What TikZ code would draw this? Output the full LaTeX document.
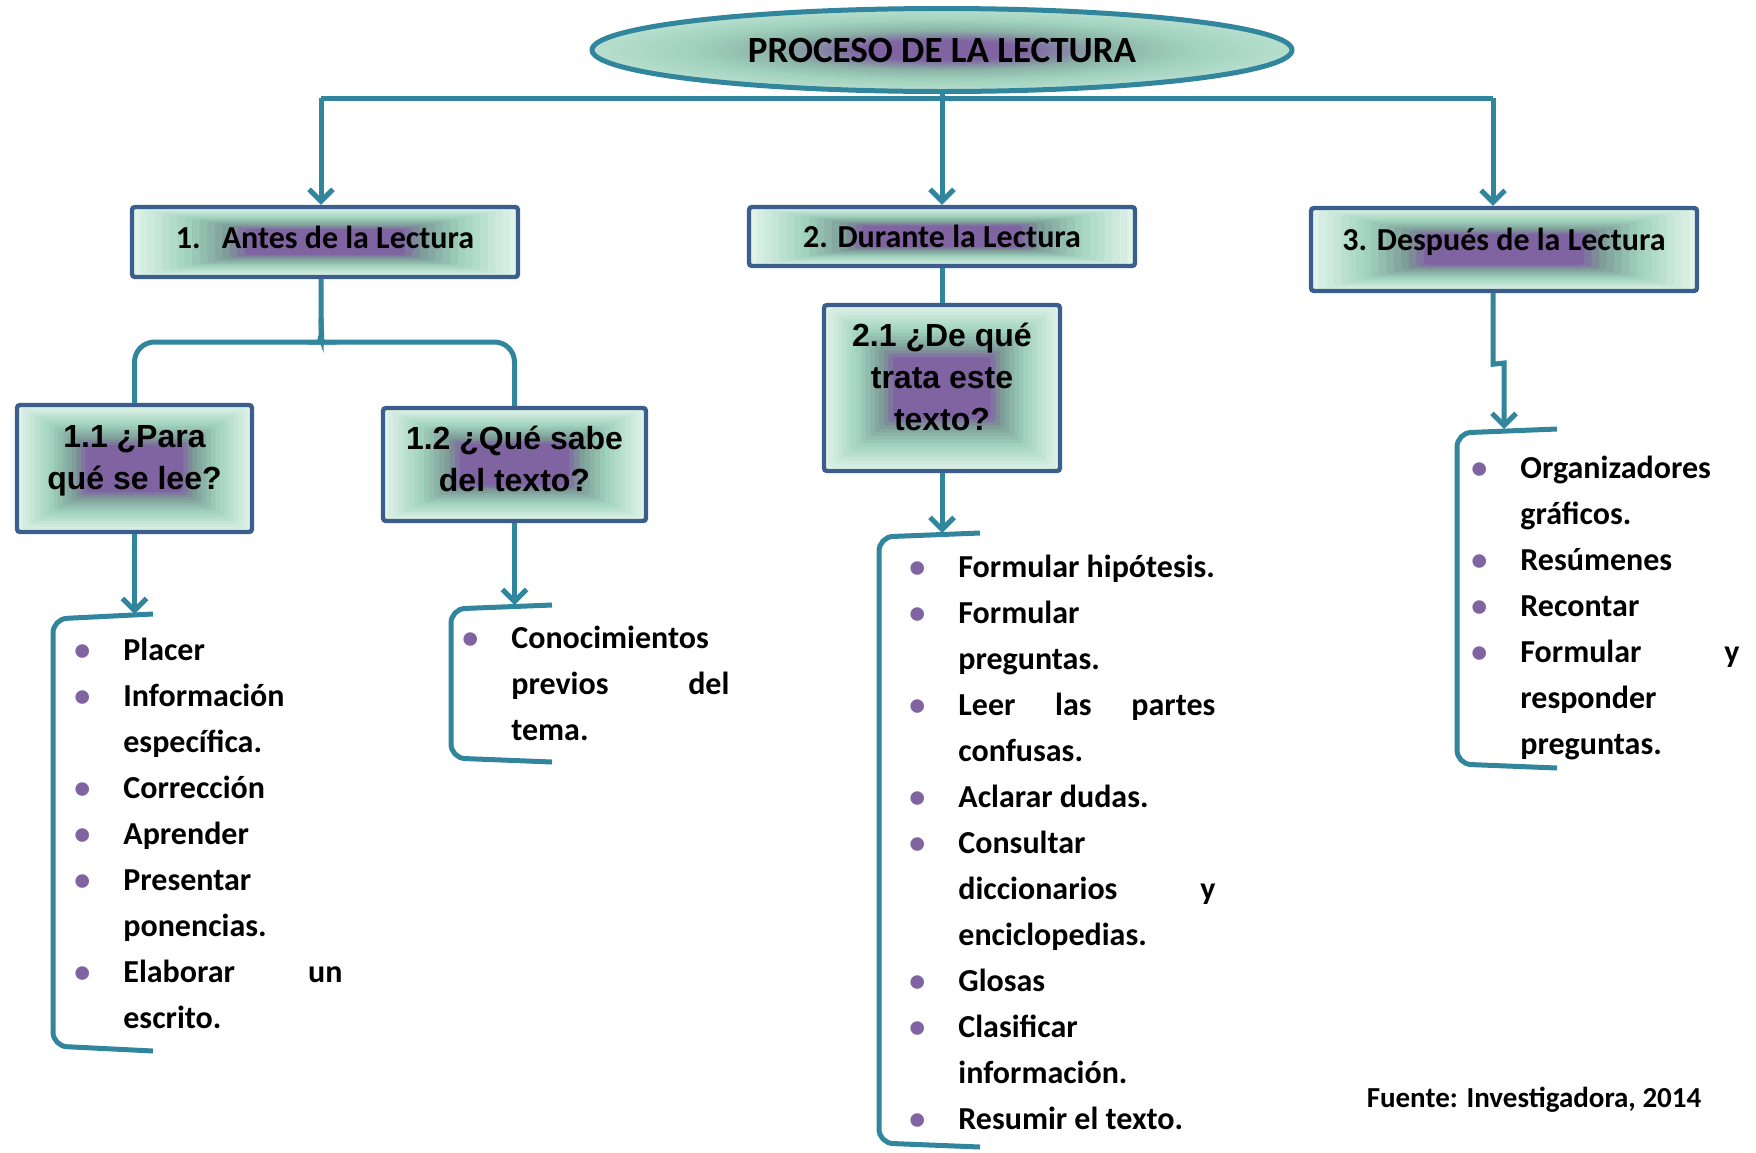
\documentclass[tikz,border=0pt]{standalone}
\usepackage{fontspec}
\setmainfont{Carlito}
\newfontfamily\arialfont{Liberation Sans}
\usepackage{tikz}
\usetikzlibrary{arrows.meta,shapes.geometric,calc,positioning}

\definecolor{conncol}{HTML}{31859C}
\definecolor{boxline}{HTML}{3B5E8C}
\definecolor{mint}{HTML}{DFF3E8}
\definecolor{sea}{HTML}{A0D2BE}
\definecolor{seadark}{HTML}{7E9E98}
\definecolor{purp}{HTML}{8064A2}

\pgfdeclareradialshading{titleshade}{\pgfpoint{0bp}{0bp}}{%
	color(0bp)=(purp); color(6bp)=(purp); color(12bp)=(seadark!60!sea);
	color(18bp)=(sea); color(27bp)=(sea!50!mint); color(33bp)=(mint); color(50bp)=(mint)}

\newcommand{\bul}{\leavevmode\llap{\makebox[0pt]{\color{purp}\textbullet}\hspace{20.5pt}}}
\newcommand{\listfont}{\fontsize{16}{23}\selectfont\bfseries}
\newcommand{\boxfont}{\fontsize{16}{19}\selectfont\bfseries}
\newcommand{\qfont}{\arialfont\fontsize{16}{21}\selectfont\bfseries}

\begin{document}
\begin{tikzpicture}[x=0.5pt,y=-0.5pt]

	\tikzset{%
		conn/.style     = {draw=conncol, line width=2.5pt},
		arr/.style      = {conn, -{Straight Barb[length=6pt,width=12pt]}},
		bracket/.style  = {conn, rounded corners=7pt},
		titlebox/.style = {ellipse, draw=conncol, line width=2.5pt, shading=titleshade,
			minimum width=350pt, minimum height=41.5pt, inner sep=0pt,
			font=\fontsize{18.5}{22}\selectfont\bfseries},
		shadebox/.style = {draw=boxline, line width=2.2pt, rounded corners=1.5pt,
			fill=mint, inner sep=0pt, font=\boxfont,
			path picture={
				\foreach \k in {1,...,16}{
					\pgfmathtruncatemacro\pa{min(100,\k*100/7)}
					\pgfmathtruncatemacro\pb{min(100,max(0,(\k-7)*20))}
					\pgfmathtruncatemacro\pc{min(100,max(0,(\k-12)*34))}
					\colorlet{bandA}{sea!\pa!mint}
					\colorlet{bandB}{seadark!\pb!bandA}
					\colorlet{bandC}{purp!\pc!bandB}
					\fill[bandC] let \p1 = (path picture bounding box.south west),
						\p2 = (path picture bounding box.north east) in
						({\x1+\k*(\x2-\x1)*0.0195},{\y1+\k*(\y2-\y1)*0.021}) rectangle
						({\x2-\k*(\x2-\x1)*0.0195},{\y2-\k*(\y2-\y1)*0.021});
				}}},
		question/.style = {shadebox, font=\qfont},
		listnode/.style = {anchor=base west, inner sep=0pt, font=\listfont}
	}

	\useasboundingbox (0,0) rectangle (1756,1152);

	\node[titlebox] (title) at (942,50) {PROCESO DE LA LECTURA};	% Titel

	% Etapas
	\node[shadebox, minimum width=193pt, minimum height=35pt, text depth=5pt] (b1) at (325,242) {1.\hspace{10.5pt}Antes de la Lectura};
	\node[shadebox, minimum width=193pt, minimum height=29.5pt] (b2) at (942,236.5) {2. Durante la Lectura};
	\node[shadebox, minimum width=193pt, minimum height=41.5pt, text depth=10.4pt] (b3) at (1504,249.5) {3. Después de la Lectura};

	% Preguntas
	\node[question, minimum width=117.5pt, minimum height=63.5pt, text depth=14.7pt] (b11) at (134.5,468.5) {\begin{tabular}[b]{@{}c@{}}1.1 ¿Para\\qué se lee?\end{tabular}};
	\node[question, minimum width=131.5pt, minimum height=56.5pt, text depth=9.2pt] (b12) at (514.5,464.5) {\begin{tabular}[b]{@{}c@{}}1.2 ¿Qué sabe\\del texto?\end{tabular}};
	\node[question, minimum width=118pt, minimum height=83pt, text depth=14.2pt] (b21) at (942,388) {\begin{tabular}[b]{@{}c@{}}2.1 ¿De qué\\trata este\\texto?\end{tabular}};

	% Listas
	\node[listnode] (l11) at (123,660) {\begin{tabular}[t]{@{}p{109.5pt}@{}}
		\bul Placer\\
		\bul Información\\
		específica.\\
		\bul Corrección\\
		\bul Aprender\\
		\bul Presentar\\
		ponencias.\\
		\bul Elaborar\hfill un\\
		escrito.
	\end{tabular}};
	\node[listnode] (l12) at (511,648) {\begin{tabular}[t]{@{}p{109pt}@{}}
		\bul Conocimientos\\
		previos\hfill del\\
		tema.
	\end{tabular}};
	\node[listnode] (l21) at (958,577) {\begin{tabular}[t]{@{}p{128.5pt}@{}}
		\bul Formular hipótesis.\\
		\bul Formular\\
		preguntas.\\
		\bul Leer\hfill las\hfill partes\\
		confusas.\\
		\bul Aclarar dudas.\\
		\bul Consultar\\
		diccionarios\hfill y\\
		enciclopedias.\\
		\bul Glosas\\
		\bul Clasificar\\
		información.\\
		\bul Resumir el texto.
	\end{tabular}};
	\node[listnode] (l3) at (1520,478) {\begin{tabular}[t]{@{}p{109.5pt}@{}}
		\bul Organizadores\\
		gráficos.\\
		\bul Resúmenes\\
		\bul Recontar\\
		\bul Formular\hfill y\\
		responder\\
		preguntas.
	\end{tabular}};

	\node[font=\fontsize{14.5}{17}\selectfont\bfseries] (fuente) at (1534,1100) {Fuente: Investigadora, 2014};

	% Puntos auxiliares
	\coordinate (lsplit) at (321,98);
	\coordinate (rsplit) at (1493,98);
	\coordinate (fork) at (321,318);
	\coordinate (k11) at (153,614);
	\coordinate (k12) at (552,605);
	\coordinate (k21) at (980,533);
	\coordinate (k3) at (1557,429);

	% Flechas
	\draw[conn] (lsplit) -- (rsplit);
	\draw[arr] (title.south) -- (b2.north);
	\draw[arr] (lsplit) -- (lsplit |- b1.north);
	\draw[arr] (rsplit) -- (rsplit |- b3.north);
	\draw[conn, rounded corners=10pt] (b1.south -| fork) -- (fork) .. controls (321,334) and (318,342) .. (304,342) -- (b11.north |- 0,342) -- (b11.north);
	\draw[conn, rounded corners=10pt] (fork) .. controls (321,334) and (324,342) .. (338,342) -- (b12.north |- 0,342) -- (b12.north);
	\draw[conn] (b2.south) -- (b21.north);
	\draw[arr] (b11.south) -- (b11.south |- k11);
	\draw[arr] (b12.south) -- (b12.south |- k12);
	\draw[arr] (b21.south) -- (b21.south |- k21);
	\draw[arr] (b3.south -| rsplit) -- ++(0,71) -- (b3.south |- 0,363) -- (b3.south |- k3);

	% Corchetes
	\draw[bracket] (k11) -- (53,619) -- (53,1046) -- (153,1051);
	\draw[bracket] (k12) -- (451,609) -- (451,758) -- (552,762);
	\draw[bracket] (k21) -- (879,537) -- (879,1143) -- (980,1147);
	\draw[bracket] (k3) -- (1457,433) -- (1457,764) -- (1557,768);

\end{tikzpicture}
\end{document}
